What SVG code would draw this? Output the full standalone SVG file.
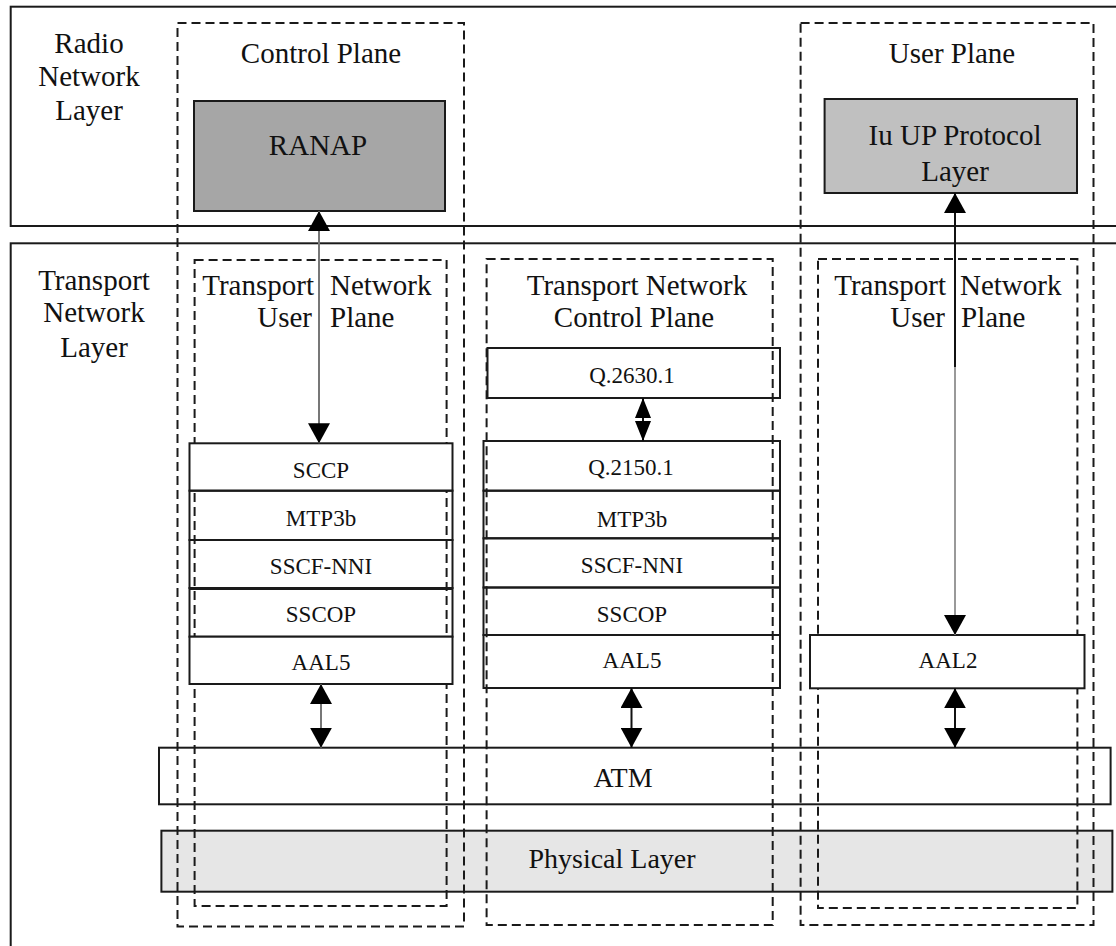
<svg xmlns="http://www.w3.org/2000/svg" width="1116" height="946" viewBox="0 0 1116 946">
<defs>
<style>
.solid{fill:none;stroke:#1a1a1a;stroke-width:2}
.white{fill:#ffffff;stroke:#1a1a1a;stroke-width:2}
.dash{fill:none;stroke:#1a1a1a;stroke-width:2;stroke-dasharray:9 5}
.t{font-family:"Liberation Serif","Times New Roman",serif;font-size:29px;fill:#111;text-anchor:middle}
.s{font-size:23px}
.e{text-anchor:end}
.b{text-anchor:start}
.conn{stroke:#777;stroke-width:2;fill:none}
.connk{stroke:#111;stroke-width:2;fill:none}
</style>
<marker id="ah" viewBox="0 0 20 22" refX="20" refY="11" markerWidth="20" markerHeight="22" markerUnits="userSpaceOnUse" orient="auto-start-reverse">
<path d="M0,0 L20,11 L0,22 z" fill="#000"/>
</marker>
<marker id="dm" viewBox="0 0 20 16" refX="20" refY="8" markerWidth="21" markerHeight="16" markerUnits="userSpaceOnUse" orient="auto-start-reverse">
<path d="M0,0 L20,8 L0,16 z" fill="#000"/>
</marker>
</defs>
<rect width="1116" height="946" fill="#ffffff"/>

<g id="radio-network-layer">
<rect class="solid" x="10.7" y="6.7" width="1200" height="219.3"/>
<text class="t" x="89" y="53">Radio</text>
<text class="t" x="89" y="86">Network</text>
<text class="t" x="89" y="120">Layer</text>
</g>

<g id="transport-network-layer">
<rect class="solid" x="10.7" y="243.3" width="1200" height="800"/>
<text class="t" x="94" y="290">Transport</text>
<text class="t" x="94" y="322">Network</text>
<text class="t" x="94" y="357">Layer</text>
</g>

<g id="atm">
<rect class="solid" x="159" y="747.7" width="951.6" height="56.6"/>
<text class="t" x="623" y="787" style="font-size:28px">ATM</text>
</g>

<g id="physical-layer">
<rect x="161.4" y="830.7" width="951" height="61" fill="#e6e6e6" stroke="#1a1a1a" stroke-width="2"/>
<text class="t" x="612" y="868" style="font-size:28px">Physical Layer</text>
</g>

<g id="control-plane">
<rect class="dash" x="177.5" y="23" width="286.5" height="903.5"/>
<text class="t" x="321" y="63">Control Plane</text>
</g>

<g id="user-plane">
<rect class="dash" x="800.6" y="23" width="292.9" height="902"/>
<text class="t" x="952" y="63">User Plane</text>
</g>

<g id="tn-user-plane-left">
<rect class="dash" x="194.6" y="260" width="252" height="646"/>
<text class="t e" x="314" y="295">Transport</text>
<text class="t b" x="330" y="295">Network</text>
<text class="t e" x="312" y="327">User</text>
<text class="t b" x="330" y="327">Plane</text>
</g>

<g id="tn-control-plane">
<rect class="dash" x="486.6" y="259" width="286.1" height="666"/>
<text class="t" x="637" y="295">Transport Network</text>
<text class="t" x="634" y="327">Control Plane</text>
</g>

<g id="tn-user-plane-right">
<rect class="dash" x="818" y="259" width="259.4" height="649"/>
<text class="t e" x="946" y="295">Transport</text>
<text class="t b" x="960" y="295">Network</text>
<text class="t e" x="945" y="327">User</text>
<text class="t b" x="961" y="327">Plane</text>
</g>

<g id="ranap">
<rect x="194" y="101" width="251" height="110" fill="#a6a6a6" stroke="#1a1a1a" stroke-width="2"/>
<text class="t" x="318" y="155">RANAP</text>
</g>

<g id="iu-up">
<rect x="824.6" y="99" width="252.4" height="94" fill="#c0c0c0" stroke="#1a1a1a" stroke-width="2"/>
<text class="t" x="955" y="145">Iu UP Protocol</text>
<text class="t" x="955" y="181">Layer</text>
</g>

<g id="sccp">
<rect class="white" x="189.5" y="443.3" width="263" height="47.4"/>
<text class="t s" x="321" y="478">SCCP</text>
</g>
<g id="mtp3b-left">
<rect class="solid" x="189.5" y="490.7" width="263" height="49.3"/>
<text class="t s" x="321" y="526">MTP3b</text>
</g>
<g id="sscf-nni-left">
<rect class="solid" x="189.5" y="540" width="263" height="48"/>
<text class="t s" x="321" y="574">SSCF-NNI</text>
</g>
<g id="sscop-left">
<rect class="solid" x="189.5" y="588" width="263" height="48.7"/>
<line x1="189.5" y1="588.5" x2="452.5" y2="588.5" stroke="#1a1a1a" stroke-width="3"/>
<text class="t s" x="321" y="622">SSCOP</text>
</g>
<g id="aal5-left">
<rect class="white" x="189.5" y="636.7" width="263" height="47.3"/>
<text class="t s" x="321" y="670">AAL5</text>
</g>

<g id="q2630">
<rect class="solid" x="487.5" y="348" width="292.5" height="50"/>
<text class="t s" x="632" y="383">Q.2630.1</text>
</g>
<g id="q2150">
<rect class="solid" x="483.5" y="441" width="296.5" height="49.7"/>
<text class="t s" x="631" y="475">Q.2150.1</text>
</g>
<g id="mtp3b-mid">
<rect class="solid" x="483.5" y="490.7" width="296.5" height="47.6"/>
<text class="t s" x="632" y="527">MTP3b</text>
</g>
<g id="sscf-nni-mid">
<rect class="solid" x="483.5" y="538.3" width="296.5" height="49.2"/>
<text class="t s" x="632" y="573">SSCF-NNI</text>
</g>
<g id="sscop-mid">
<rect class="solid" x="483.5" y="587.5" width="296.5" height="47.5"/>
<text class="t s" x="632" y="622">SSCOP</text>
</g>
<g id="aal5-mid">
<rect class="solid" x="483.5" y="635" width="296.5" height="53"/>
<text class="t s" x="632" y="668">AAL5</text>
</g>

<g id="aal2">
<rect class="white" x="810" y="635" width="274.5" height="53.3"/>
<text class="t s" x="948" y="668">AAL2</text>
</g>

<g id="connectors">
<line class="conn" x1="319" y1="211" x2="319" y2="443.3" marker-start="url(#ah)" marker-end="url(#ah)"/>
<line class="connk" x1="643" y1="398" x2="643" y2="441" marker-start="url(#dm)" marker-end="url(#dm)"/>
<line class="connk" x1="955" y1="193" x2="955" y2="367" marker-start="url(#ah)"/>
<line stroke="#999" stroke-width="2" x1="955" y1="367" x2="955" y2="635" marker-end="url(#ah)"/>
<line class="conn" x1="321" y1="684" x2="321" y2="747.7" marker-start="url(#ah)" marker-end="url(#ah)"/>
<line class="connk" x1="631.5" y1="688" x2="631.5" y2="747.7" marker-start="url(#ah)" marker-end="url(#ah)"/>
<line class="connk" x1="955" y1="688.3" x2="955" y2="747.7" marker-start="url(#ah)" marker-end="url(#ah)"/>
</g>
</svg>
